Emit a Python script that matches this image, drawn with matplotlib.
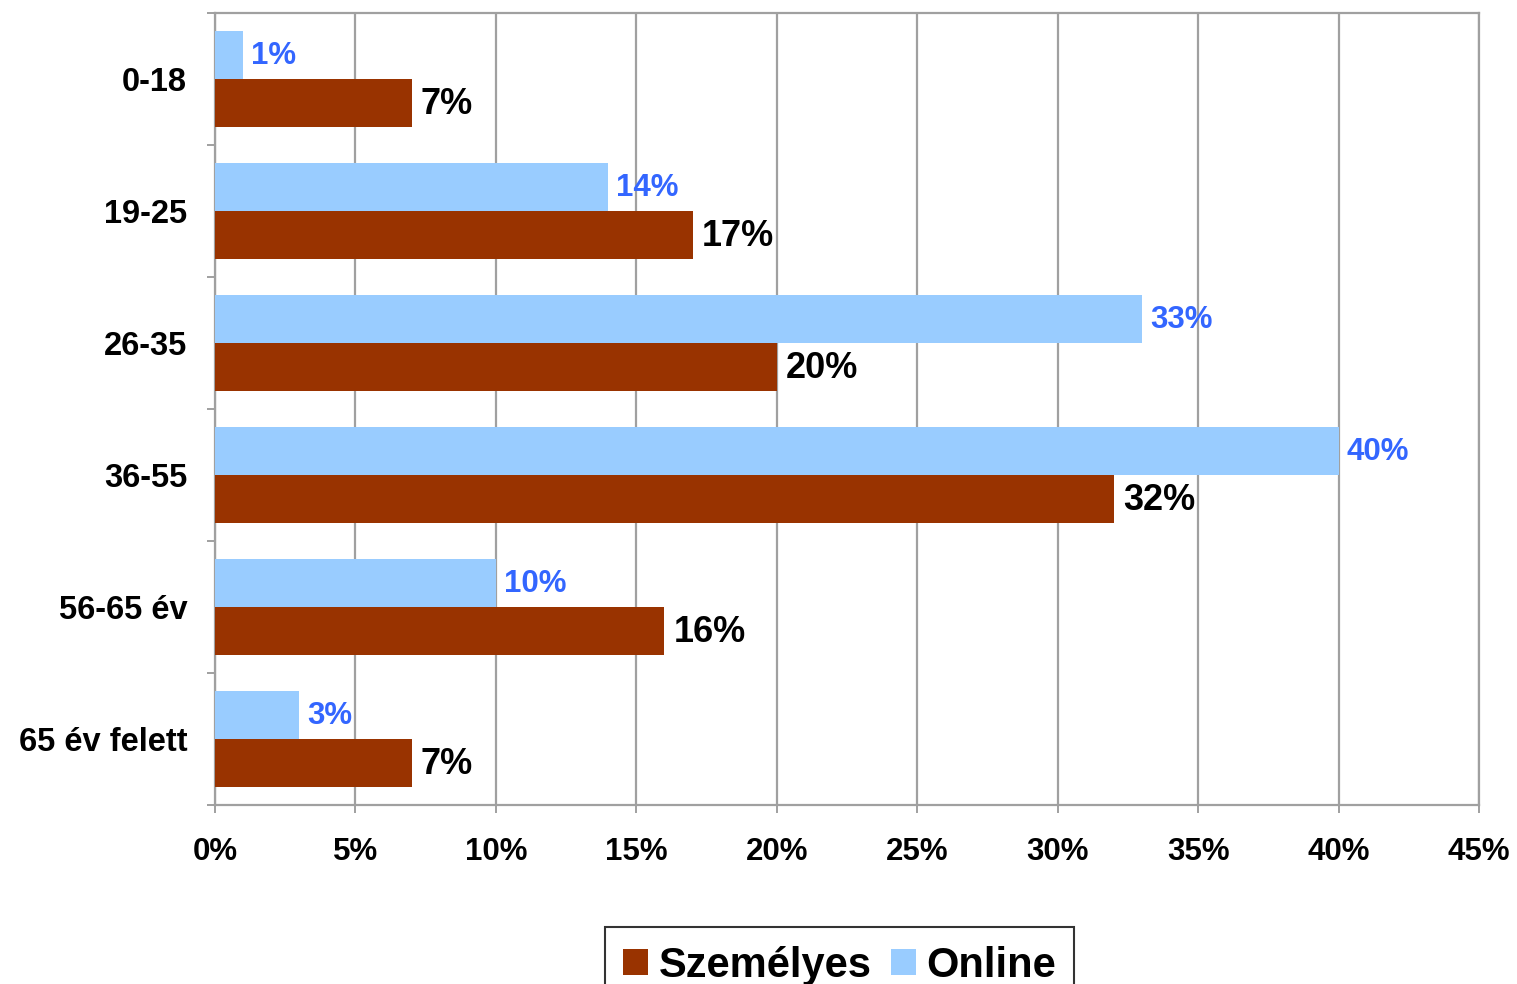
import matplotlib.pyplot as plt
import numpy as np

plt.rcParams['font.family'] = ['Liberation Sans', 'DejaVu Sans']
plt.rcParams['font.weight'] = 'bold'

korcsoportok = ["0-18", "19-25", "26-35", "36-55", "56-65 év", "65 év felett"]
szemelyes = [7, 17, 20, 32, 16, 7]
online = [1, 14, 33, 40, 10, 3]
xtick_ertekek = [0, 5, 10, 15, 20, 25, 30, 35, 40, 45]

szin_szem = "#993300"
szin_online = "#99CCFF"
szurke = "#a0a0a0"

fig = plt.figure(figsize=(15.17, 9.84), dpi=100)
ax = fig.add_axes([215 / 1517, 1 - 805 / 984, (1479 - 215) / 1517, (805 - 13) / 984])

y = np.arange(len(korcsoportok))
h = 0.365
ax.barh(y - h / 2, online, height=h, color=szin_online, label="Online", zorder=3)
ax.barh(y + h / 2, szemelyes, height=h, color=szin_szem, label="Személyes", zorder=3)

for yi, v in zip(y, online):
    ax.text(v + 0.28, yi - h / 2 + 0.01, f"{v}%", color="#3366ff", fontsize=22.5,
            fontweight="bold", va="center", ha="left", zorder=4)
for yi, v in zip(y, szemelyes):
    ax.text(v + 0.33, yi + h / 2 + 0.01, f"{v}%", color="black", fontsize=26,
            fontweight="bold", va="center", ha="left", zorder=4)

ax.set_xlim(0, 45)
ax.set_ylim(5.5, -0.5)
ax.set_xticks(xtick_ertekek)
ax.set_xticklabels([f"{t}%" for t in xtick_ertekek], fontsize=22.5, fontweight="bold")
ax.set_yticks(y)
ax.set_yticklabels(korcsoportok, fontsize=23.5, fontweight="bold")
ax.set_yticks(np.arange(-0.5, 6, 1), minor=True)
ax.tick_params(axis="y", which="major", length=0, pad=20)
ax.tick_params(axis="y", which="minor", length=6, width=1.4, color=szurke)
ax.tick_params(axis="x", length=6, width=1.4, color=szurke, pad=17)

ax.grid(axis="x", color=szurke, linewidth=1.6, zorder=0)
for s in ax.spines.values():
    s.set_color(szurke)
    s.set_linewidth(1.6)

handles, labels = ax.get_legend_handles_labels()
leg = fig.legend(handles[::-1], labels[::-1], loc="upper center",
                 bbox_to_anchor=(839.5 / 1517, 1 - 927 / 984), ncol=2,
                 prop={"size": 30, "weight": "bold"}, frameon=True, fancybox=False,
                 edgecolor="black", handlelength=0.6, handleheight=0.6,
                 handletextpad=0.25, columnspacing=0.45, borderpad=0.45,
                 borderaxespad=0)
leg.get_frame().set_linewidth(1.5)

fig.savefig("out.png", dpi=100)
